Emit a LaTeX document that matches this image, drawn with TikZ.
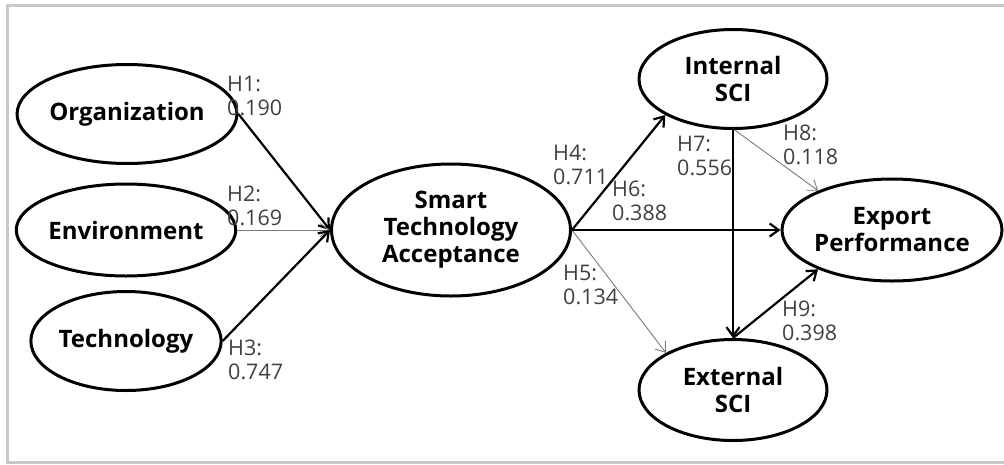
\documentclass[tikz,border=0pt]{standalone}
\usepackage{fontspec}
\setmainfont{Open Sans}
\usetikzlibrary{shapes.geometric,arrows.meta}
\definecolor{framegray}{HTML}{C8C8C8}
\definecolor{labelgray}{HTML}{404040}
\definecolor{thingray}{HTML}{7A7A7A}
\tikzset{
  construct/.style={ellipse, draw=black, line width=3pt, inner sep=0pt,
    align=center, font=\fontsize{24}{27}\selectfont\bfseries},
  strong/.style={draw=black, line width=2.2pt,
    -{Straight Barb[length=9pt,width=13pt]}},
  weak/.style={draw=thingray, line width=0.9pt,
    -{Straight Barb[length=9pt,width=13pt]}},
  coef/.style={anchor=north west, inner sep=0pt, align=left, text=labelgray,
    font=\fontsize{21.5}{23.5}\selectfont},
}
\begin{document}
\begin{tikzpicture}[x=1pt,y=-1pt]
\useasboundingbox (0,0) rectangle (1004,464);
% frame
\draw[framegray, line width=3pt] (1004,5.5) -- (7.5,5.5) -- (7.5,462) -- (1004,462);

% constructs
\node[construct, minimum width=191pt, minimum height=99pt] (org) at (127,114) {Organization};
\node[construct, minimum width=189pt, minimum height=92pt] (env) at (126,230) {Environment};
\node[construct, minimum width=189pt, minimum height=99pt] (tech) at (126,341) {Technology};
\node[construct, minimum width=239pt, minimum height=132pt] (sta) at (451,230) {Smart\\Technology\\Acceptance};
\node[construct, minimum width=188pt, minimum height=99pt] (int) at (733,79) {Internal\\SCI};
\node[construct, minimum width=188pt, minimum height=101pt] (ext) at (733,390) {External\\SCI};
\node[construct, minimum width=191pt, minimum height=102pt] (exp) at (892,230) {Export\\Performance};

% paths
\draw[strong] (org.east) -- (sta.west);
\draw[weak] (env.east) -- (sta.west);
\draw[strong] (tech.east) -- (sta.west);
\draw[strong] (sta.east) -- (int.208);
\draw[weak] (sta.east) -- (ext.151);
\draw[strong] (sta.east) -- (exp.west);
\draw[strong] (int.south) -- (ext.north);
\draw[weak] (int.-88) -- (exp.152);
\draw[strong] (ext.north) -- (exp.208);

% path coefficients
\node[coef] (h1) at (227,76) {H1:\\0.190};
\node[coef] (h2) at (227,186) {H2:\\0.169};
\node[coef] (h3) at (228,340) {H3:\\0.747};
\node[coef] (h4) at (553,145) {H4:\\0.711};
\node[coef] (h6) at (612,181) {H6:\\0.388};
\node[coef] (h5) at (563,265) {H5:\\0.134};
\node[coef] (h7) at (677,136) {H7:\\0.556};
\node[coef] (h8) at (783,125) {H8:\\0.118};
\node[coef] (h9) at (782,301) {H9:\\0.398};
\end{tikzpicture}
\end{document}
